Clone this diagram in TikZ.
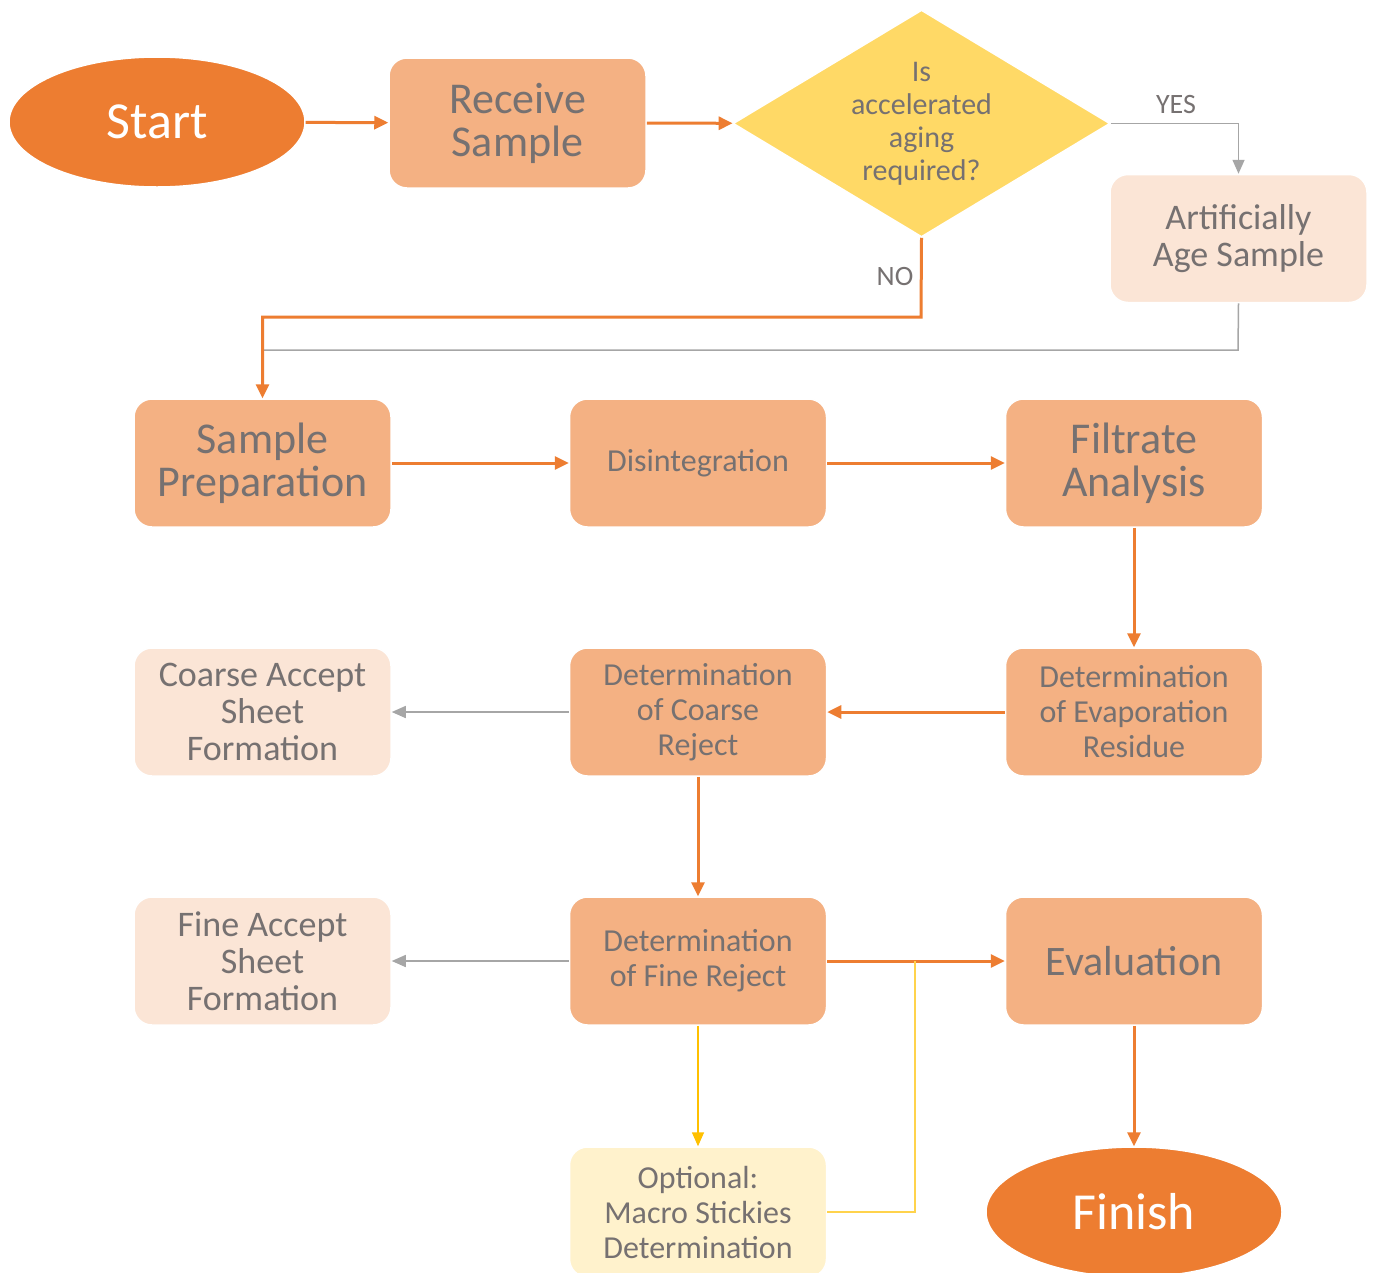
\documentclass[tikz,border=0pt]{standalone}
\usepackage{fontspec}
\setmainfont{Carlito}
\usetikzlibrary{shapes.geometric,arrows.meta}
\definecolor{dorange}{HTML}{ED7D31}
\definecolor{lorange}{HTML}{F4B183}
\definecolor{pale}{HTML}{FBE5D6}
\definecolor{dyel}{HTML}{FFD966}
\definecolor{pyel}{HTML}{FFF2CC}
\definecolor{gold}{HTML}{FFC000}
\definecolor{txt}{HTML}{767171}
\definecolor{lgray}{HTML}{A6A6A6}
\tikzset{
  box/.style={rectangle, rounded corners=18pt, minimum width=257pt, minimum height=128pt,
    inner sep=0pt, align=center, draw=white, line width=1.5pt, text=txt},
  mainbox/.style={box, fill=lorange},
  palebox/.style={box, fill=pale},
  optbox/.style={box, fill=pyel},
  term/.style={ellipse, fill=dorange, draw=white, line width=1.5pt, minimum width=296pt,
    minimum height=130pt, inner sep=0pt, text=white, font=\fontsize{52}{52}\selectfont},
  decision/.style={diamond, aspect=1.66, fill=dyel, draw=white, line width=1.5pt, minimum width=377pt,
    minimum height=227pt, inner sep=0pt, align=center, text=txt,
    font=\fontsize{30}{33}\selectfont},
  fbig/.style={font=\fontsize{44}{43}\selectfont},
  fmid/.style={font=\fontsize{36}{37}\selectfont},
  fsml/.style={font=\fontsize{32}{35}\selectfont},
  oarr/.style={draw=dorange, line width=3pt, -{Triangle[length=14pt,width=13pt]}},
  oline/.style={draw=dorange, line width=3pt},
  garr/.style={draw=lgray, line width=1.5pt, -{Triangle[length=14pt,width=12pt]}},
  gline/.style={draw=lgray, line width=1.5pt},
  yarr/.style={draw=gold, line width=1.5pt, -{Triangle[length=14pt,width=12pt]}},
  yline/.style={draw=gold!70, line width=1.5pt},
  lbl/.style={text=txt, font=\fontsize{28}{28}\selectfont, inner sep=0pt},
}
\begin{document}
\begin{tikzpicture}[x=1pt,y=-1pt]
\useasboundingbox[fill=white] (0,0) rectangle (1375,1272);
% nodes
\node[term] (start) at (157,122) {Start};
\node[mainbox, fbig, minimum height=130pt] (recv) at (517.5,123) {Receive\\Sample};
\node[decision] (dec) at (921.5,123.5) {Is\\accelerated\\aging\\required?};
\node[palebox, fmid] (age) at (1238.5,238.5) {Artificially\\Age Sample};
\node[mainbox, fbig] (prep) at (262.5,463) {Sample\\Preparation};
\node[mainbox, fsml] (dis) at (698,463) {Disintegration};
\node[mainbox, fbig] (filt) at (1134,463) {Filtrate\\Analysis};
\node[palebox, fmid] (cacc) at (262.5,712) {Coarse Accept\\Sheet\\Formation};
\node[mainbox, fsml] (crej) at (698,712) {Determination\\of Coarse\\Reject};
\node[mainbox, fsml] (evap) at (1134,712) {Determination\\of Evaporation\\Residue};
\node[palebox, fmid] (facc) at (262.5,961) {Fine Accept\\Sheet\\Formation};
\node[mainbox, fsml] (frej) at (698,961) {Determination\\of Fine Reject};
\node[mainbox, fbig, font=\fontsize{42}{42}\selectfont] (eval) at (1134,961) {Evaluation};
\node[optbox, fsml, minimum height=130pt] (opt) at (698,1212) {Optional:\\Macro Stickies\\Determination};
\node[term] (fin) at (1134,1212) {Finish};
% labels
\node[lbl] (yes) at (1176,105) {YES};
\node[lbl] (no) at (895,277) {NO};
% join points
\coordinate (noj) at (921,317);
\coordinate (agej) at (1238,350);
\coordinate (yj) at (915,961);
% connectors
\draw[oarr] (start) -- (recv);
\draw[oarr] (recv) -- (dec);
\draw[garr] (dec.east) -| (age.north);
\draw[gline] (age.south) -- (agej) -- (prep.north |- agej);
\draw[oarr] (dec.south) -- (noj) -| (prep.north);
\draw[oarr] (prep) -- (dis);
\draw[oarr] (dis) -- (filt);
\draw[oarr] (filt) -- (evap);
\draw[oarr] (evap) -- (crej);
\draw[garr] (crej) -- (cacc);
\draw[oarr] (crej) -- (frej);
\draw[garr] (frej) -- (facc);
\draw[oarr] (frej) -- (eval);
\draw[yarr] (frej) -- (opt);
\draw[yline] (opt.east) -| (yj);
\draw[oarr] (eval) -- (fin);
\end{tikzpicture}
\end{document}
